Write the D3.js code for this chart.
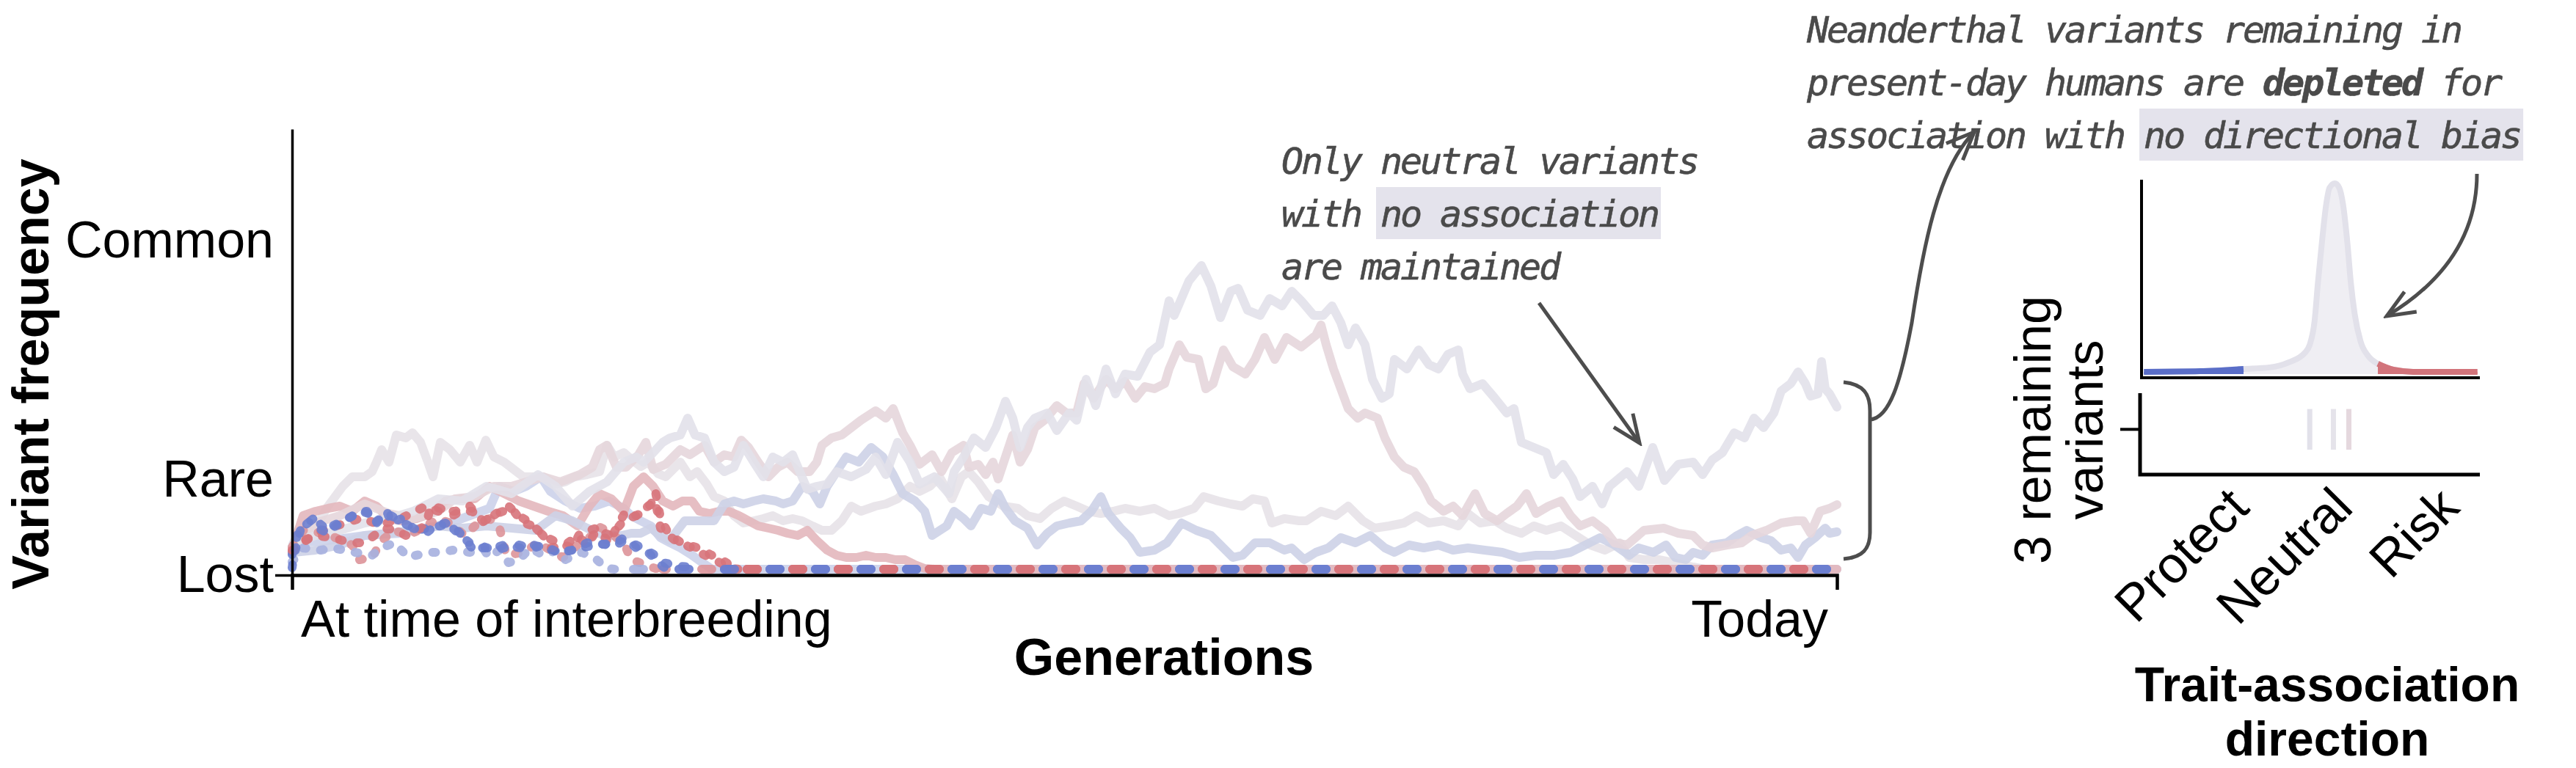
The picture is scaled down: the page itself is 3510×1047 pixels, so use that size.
<!DOCTYPE html>
<html>
<head>
<meta charset="utf-8">
<script src="https://cdn.jsdelivr.net/npm/d3@7"></script>
<style>
body{margin:0;background:#fff}
svg{display:block}
.lbl{font-family:"Liberation Sans",Arial,sans-serif;fill:#000}
.note{font-family:"DejaVu Sans Mono",monospace;font-style:italic;fill:#4a4a4a;font-size:50px;letter-spacing:-3.1px;stroke:#4a4a4a;stroke-width:0.6}
</style>
</head>
<body>
<svg id="fig" width="3510" height="1047"></svg>
<script>
// ---- allele trajectories: [generation, frequency] ----
var keptLavender = [[0,30],[2,36],[32,46],[65,53],[99,63],[132,69],[165,79],[199,96],[232,93],[265,113],[299,103],[335,129],[359,113],[382,86],[405,106],[429,119],[452,146],[469,153],[479,146],[492,159],[505,173],[515,179],[529,183],[539,206],[549,183],[562,179],[575,146],[589,133],[602,139],[615,169],[629,146],[642,126],[655,153],[669,146],[682,156],[702,109],[715,113],[729,116],[742,133],[762,126],[782,136],[795,153],[809,129],[825,173],[842,146],[855,116],[875,126],[895,103],[902,133],[915,153],[929,179],[945,166],[959,193],[972,229],[982,206],[992,166],[1002,193],[1012,206],[1029,213],[1042,189],[1059,213],[1069,203],[1082,259],[1095,223],[1109,273],[1122,239],[1135,266],[1152,263],[1169,296],[1182,306],[1195,366],[1202,346],[1222,393],[1239,414],[1252,386],[1265,343],[1279,379],[1289,383],[1302,353],[1319,346],[1332,369],[1349,359],[1362,379],[1375,366],[1392,346],[1405,346],[1417,359],[1429,336],[1439,306],[1449,329],[1462,306],[1472,259],[1485,233],[1495,239],[1502,286],[1519,273],[1535,299],[1549,279],[1562,273],[1575,293],[1589,299],[1595,266],[1605,246],[1622,253],[1639,233],[1655,213],[1665,219],[1675,173],[1692,166],[1709,159],[1719,129],[1732,143],[1745,123],[1755,99],[1772,113],[1785,89],[1795,113],[1819,133],[1835,113],[1854,166],[1870,121],[1889,143],[1909,146],[1922,129],[1935,149],[1949,159],[1965,186],[1979,179],[1992,206],[2005,193],[2019,213],[2029,243],[2042,253],[2052,269],[2062,253],[2069,236],[2079,239],[2084,283],[2089,246],[2095,239],[2105,221]];
var keptPink = [[0,28],[2,29],[32,63],[65,73],[99,89],[132,76],[165,69],[199,79],[222,96],[249,99],[275,113],[299,113],[319,119],[342,126],[365,119],[392,129],[409,139],[419,163],[429,169],[442,139],[455,139],[472,156],[482,173],[492,136],[509,143],[519,153],[529,163],[542,156],[562,169],[575,146],[589,156],[602,153],[612,176],[622,166],[635,146],[649,126],[662,139],[675,146],[689,133],[705,133],[715,146],[722,169],[735,179],[749,183],[762,193],[775,203],[795,216],[809,206],[819,219],[832,186],[842,169],[855,143],[872,156],[885,133],[899,159],[915,169],[922,139],[935,143],[945,129],[955,146],[962,123],[972,153],[982,183],[992,146],[1002,163],[1012,193],[1025,203],[1042,223],[1055,213],[1069,213],[1079,253],[1092,233],[1109,259],[1122,246],[1135,256],[1149,233],[1162,249],[1175,246],[1189,253],[1195,273],[1209,306],[1219,289],[1235,286],[1245,246],[1255,253],[1269,299],[1282,276],[1299,266],[1312,286],[1325,316],[1339,286],[1355,316],[1375,303],[1395,319],[1402,333],[1409,306],[1419,273],[1429,246],[1439,219],[1452,206],[1462,213],[1479,206],[1489,179],[1502,153],[1515,139],[1529,133],[1542,113],[1552,93],[1569,79],[1582,86],[1595,73],[1612,103],[1625,76],[1642,66],[1655,76],[1669,86],[1682,103],[1695,76],[1712,86],[1729,93],[1742,73],[1755,59],[1772,66],[1789,53],[1802,36],[1819,33],[1842,53],[1869,56],[1889,49],[1909,46],[1922,33],[1935,29],[1955,33],[1975,36],[1989,46],[2009,53],[2029,63],[2049,66],[2059,66],[2069,49],[2082,79],[2095,83],[2105,88]];
var keptBlue = [[0,22],[2,23],[32,26],[65,33],[99,46],[132,49],[165,53],[199,59],[232,56],[265,59],[299,56],[332,53],[359,73],[382,66],[402,56],[425,46],[449,46],[462,49],[475,49],[489,56],[502,46],[515,39],[525,53],[535,66],[549,66],[562,66],[575,66],[589,89],[602,93],[615,89],[629,93],[642,96],[659,93],[669,89],[682,93],[695,113],[709,106],[719,89],[729,113],[742,133],[755,153],[772,146],[789,166],[805,153],[819,129],[832,103],[849,93],[862,79],[872,46],[892,59],[902,79],[915,69],[925,59],[939,83],[952,79],[962,103],[972,83],[985,66],[1002,56],[1015,33],[1029,49],[1042,59],[1059,63],[1075,66],[1089,79],[1102,99],[1112,76],[1129,56],[1142,43],[1155,23],[1175,26],[1192,36],[1212,63],[1232,53],[1252,46],[1269,29],[1282,16],[1295,19],[1312,36],[1332,36],[1352,26],[1362,29],[1379,13],[1395,23],[1412,29],[1429,43],[1449,36],[1469,46],[1489,29],[1502,23],[1522,33],[1542,29],[1562,33],[1582,26],[1602,29],[1625,26],[1649,23],[1672,16],[1695,19],[1719,19],[1742,23],[1762,33],[1782,43],[1802,33],[1822,19],[1835,29],[1855,23],[1872,33],[1885,16],[1899,13],[1909,23],[1922,19],[1935,33],[1955,36],[1969,46],[1982,53],[2002,43],[2015,39],[2029,26],[2042,29],[2052,16],[2062,33],[2075,43],[2089,56],[2095,49],[2105,51]];
var paleRise = [[0,28],[2,29],[22,46],[39,69],[49,86],[69,113],[82,126],[99,126],[109,133],[115,146],[122,163],[132,146],[142,183],[155,179],[164,186],[175,173],[185,146],[192,126],[202,173],[215,163],[229,146],[242,169],[252,146],[264,176],[275,153],[289,146],[302,136],[315,126],[329,126],[342,126],[359,116],[372,119],[385,126],[402,129],[419,133],[429,169],[439,153],[452,159],[462,150],[475,140],[485,146],[499,130],[509,126],[529,146],[542,126],[552,133],[565,116],[575,99],[589,93],[602,73],[615,63],[629,66],[642,69],[655,73],[669,66],[682,69],[695,66],[709,59],[722,53],[735,53],[749,66],[762,86],[775,79],[795,86],[809,89],[825,96],[842,113],[855,106],[869,113],[882,126],[899,96],[912,126],[922,133],[935,119],[949,99],[969,86],[989,83],[1002,73],[1019,69],[1035,83],[1052,93],[1069,86],[1085,79],[1102,76],[1119,79],[1135,83],[1155,79],[1175,83],[1195,73],[1209,76],[1229,83],[1242,99],[1262,93],[1279,89],[1295,86],[1309,96],[1325,93],[1335,63],[1352,69],[1372,66],[1382,66],[1402,79],[1422,73],[1439,86],[1459,66],[1475,56],[1495,59],[1515,63],[1532,73],[1549,63],[1569,66],[1589,59],[1602,76],[1619,63],[1639,66],[1655,56],[1675,49],[1692,59],[1709,53],[1729,59],[1749,46],[1769,33],[1789,26],[1809,36],[1822,16],[1842,13],[1862,13],[1882,9],[1895,6],[1909,3],[1925,0],[2105,0]];
var paleBlue = [[0,30],[2,36],[49,39],[99,46],[149,49],[182,56],[215,63],[242,73],[269,83],[282,113],[302,106],[319,113],[339,126],[352,106],[372,93],[392,83],[412,86],[432,93],[452,83],[462,73],[475,66],[489,59],[502,43],[515,36],[529,29],[545,19],[559,9],[572,0],[2105,0]];
var paleRed = [[0,28],[2,33],[15,73],[32,79],[49,83],[65,86],[82,79],[99,93],[115,86],[132,69],[149,66],[169,69],[189,76],[209,93],[229,96],[249,96],[269,113],[289,103],[309,93],[329,86],[349,79],[369,73],[389,59],[405,86],[419,103],[435,96],[452,79],[465,113],[479,126],[492,113],[505,93],[519,86],[532,93],[545,93],[555,79],[569,76],[582,79],[595,79],[609,73],[622,66],[635,59],[649,56],[662,53],[675,49],[689,46],[702,53],[715,39],[729,26],[742,19],[755,16],[769,16],[782,19],[795,16],[809,16],[822,13],[835,13],[849,6],[862,1],[875,0],[2105,0]];
var lostRedA = [[0,26],[2,26],[15,39],[32,46],[55,43],[69,39],[82,36],[99,36],[112,46],[125,56],[142,53],[155,46],[169,53],[182,59],[189,86],[202,83],[219,73],[229,79],[245,79],[262,66],[279,76],[299,83],[315,63],[329,59],[342,46],[352,29],[372,33],[389,46],[402,33],[415,53],[435,46],[449,63],[452,66],[469,73],[485,86],[495,93],[502,56],[522,39],[545,29],[555,23],[575,13],[589,6],[599,1],[610,0],[2105,0]];
var lostRedB = [[0,30],[15,53],[42,49],[59,43],[82,33],[92,13],[109,16],[122,39],[139,53],[159,46],[182,59],[199,69],[215,63],[235,46],[249,59],[269,69],[282,59],[292,19],[315,23],[335,36],[352,26],[369,16],[389,33],[409,46],[415,59],[429,53],[442,43],[452,36],[462,13],[482,6],[495,1],[505,0],[2105,0]];
var lostRedC = [[0,24],[20,40],[45,55],[70,62],[95,70],[120,60],[150,70],[182,86],[199,79],[222,79],[242,86],[262,63],[282,79],[295,86],[309,73],[325,63],[342,46],[362,36],[382,29],[392,49],[415,56],[432,36],[445,63],[455,79],[469,73],[479,79],[489,89],[495,106],[502,70],[512,50],[530,36],[550,30],[570,20],[590,10],[605,0],[2105,0]];
var lostBlueA = [[0,2],[2,16],[12,56],[29,69],[35,56],[49,49],[55,59],[75,69],[95,79],[112,73],[115,63],[129,79],[135,63],[149,69],[165,56],[182,49],[195,59],[209,63],[222,56],[229,49],[245,29],[255,33],[275,26],[289,29],[309,33],[329,29],[342,33],[362,23],[382,26],[402,36],[415,36],[429,33],[442,33],[452,39],[469,33],[482,26],[495,19],[505,9],[529,4],[542,3],[550,0],[2105,0]];
var lostBlueB = [[0,10],[15,29],[39,26],[55,29],[72,26],[85,23],[109,19],[122,29],[139,36],[159,16],[169,19],[189,23],[202,23],[219,26],[242,23],[262,26],[269,16],[282,26],[295,9],[309,13],[325,29],[342,19],[362,26],[372,13],[395,23],[415,13],[429,1],[440,0],[2105,0]];
var lostBlueC = [[0,20],[9,53],[29,69],[49,53],[72,66],[92,79],[102,79],[112,63],[129,76],[142,69],[159,59],[169,53],[185,56],[202,59],[212,63],[229,46],[242,36],[255,29],[275,29],[289,33],[312,29],[329,33],[342,29],[369,23],[392,29],[415,33],[442,36],[452,43],[469,29],[485,23],[495,13],[502,6],[509,1],[520,0],[2105,0]];

var yTickVals = [-8, 122, 448];
var yTickNames = ["Lost", "Rare", "Common"];

// ---- trait-association density (association, relative density) ----
var density = [[-3.95,0.012],[-2.79,0.015],[-1.89,0.027],[-1.35,0.035],[-0.95,0.062],[-0.62,0.112],[-0.52,0.154],[-0.42,0.277],[-0.35,0.48],[-0.27,0.685],[-0.18,0.888],[-0.11,0.977],[0,1],[0.09,0.977],[0.17,0.888],[0.26,0.685],[0.33,0.48],[0.41,0.315],[0.53,0.173],[0.70,0.092],[0.89,0.054],[1.21,0.023],[1.62,0.012],[2.95,0.012]];
var protectCut = -1.89, riskCut = 0.89;
var remaining = [-0.52, -0.03, 0.29];
var directionNames = ["Protect", "Neutral", "Risk"];
var directionPos = [-1.73, 0.42, 2.62];

var noteLeft = ["Only neutral variants", "with no association", "are maintained"];
var noteRight = ["Neanderthal variants remaining in", "present-day humans are depleted for", "association with no directional bias"];

// ---- styles ----
var RED = "#d7737a", BLUE = "#6b7ecf", INK = "#4d4d4d";
var paleSeries = [
  {pts: paleRise, color: "#e7e2e8"},
  {pts: paleBlue, color: "#ccd1ea"},
  {pts: paleRed, color: "#e3b7bd"},
  {pts: keptBlue, color: "#cdd2e7"},
  {pts: keptPink, color: "#e6d6dc"},
  {pts: keptLavender, color: "#e2e1ea"}
];
var lostSeries = [
  {pts: lostRedB, color: "#dd9499", shift: 0},
  {pts: lostBlueB, color: "#a6b0df", shift: 31},
  {pts: lostRedC, color: RED, shift: 0},
  {pts: lostBlueC, color: BLUE, shift: 31},
  {pts: lostRedA, color: RED, shift: 0},
  {pts: lostBlueA, color: BLUE, shift: 31}
];

var svg = d3.select("#fig");
svg.append("rect").attr("width", 3510).attr("height", 1047).attr("fill", "#fff");

var defs = svg.append("defs");
defs.append("marker").attr("id", "head")
  .attr("viewBox", "-45 -25 50 50").attr("markerWidth", 50).attr("markerHeight", 50)
  .attr("markerUnits", "userSpaceOnUse").attr("orient", "auto").attr("refX", 0).attr("refY", 0)
  .append("path").attr("d", "M-38,-16L0,0L-38,16").attr("fill", "none")
  .attr("stroke", INK).attr("stroke-width", 5);

// ================= left panel =================
var x = d3.scaleLinear().domain([0, 2105]).range([398, 2503]);
var y = d3.scaleLinear().domain([-8, 600]).range([784, 176]);
var line = d3.line().x(function(d){ return x(d[0]) }).y(function(d){ return y(d[1]) });

var gl = svg.append("g");
gl.selectAll(".pale").data(paleSeries).enter().append("path")
  .attr("class", "pale")
  .attr("d", function(d){ return line(d.pts) })
  .attr("fill", "none").attr("stroke", function(d){ return d.color })
  .attr("stroke-width", 12).attr("stroke-linejoin", "round").attr("stroke-linecap", "round")
  .attr("opacity", 0.9);

function splitAtLoss(pts){
  var k = pts.findIndex(function(p){ return p[1] <= 0 });
  return {walk: pts.slice(0, k + 1), flat: pts.slice(k)};
}

lostSeries.forEach(function(s){
  var parts = splitAtLoss(s.pts);
  gl.append("path").attr("d", line(parts.walk))
    .attr("fill", "none").attr("stroke", s.color).attr("stroke-width", 12)
    .attr("stroke-linecap", "round").attr("stroke-linejoin", "round")
    .attr("stroke-dasharray", "4 20").attr("opacity", 0.9);
  gl.append("path").attr("d", line(parts.flat))
    .attr("fill", "none").attr("stroke", s.color).attr("stroke-width", 12)
    .attr("stroke-linecap", "round")
    .attr("stroke-dasharray", "14 48")
    .attr("stroke-dashoffset", x(parts.flat[0][0]) - x(0) + s.shift)
    .attr("opacity", 0.9);
});

var xAxis = gl.append("g").attr("transform", "translate(0," + y(-8) + ")")
  .call(d3.axisBottom(x).tickValues([]).tickSizeOuter(20));
xAxis.select(".domain").attr("stroke", "#000").attr("stroke-width", 4.5);

var yAxis = gl.append("g").attr("transform", "translate(" + x(0) + ",0)")
  .call(d3.axisLeft(y).tickValues(yTickVals).tickSize(0).tickSizeOuter(0).tickPadding(25)
    .tickFormat(function(d, i){ return yTickNames[i] }));
yAxis.select(".domain").attr("stroke", "#000").attr("stroke-width", 3.5);
yAxis.selectAll("text").attr("class", "lbl").attr("font-size", 70).attr("dy", "0.32em");
yAxis.selectAll(".tick").filter(function(d){ return d === yTickVals[0] })
  .select("line").attr("x2", -23).attr("stroke", "#000").attr("stroke-width", 3.5);

gl.append("text").attr("class", "lbl").attr("font-size", 70)
  .attr("x", x(0) + 12).attr("y", 868).text("At time of interbreeding");
gl.append("text").attr("class", "lbl").attr("font-size", 70).attr("text-anchor", "end")
  .attr("x", x(2105) - 12).attr("y", 868).text("Today");
gl.append("text").attr("class", "lbl").attr("font-size", 70).attr("font-weight", "bold")
  .attr("text-anchor", "middle").attr("x", 1586).attr("y", 920).text("Generations");
gl.append("text").attr("class", "lbl").attr("font-size", 70).attr("font-weight", "bold")
  .attr("text-anchor", "middle").attr("transform", "translate(66,510) rotate(-90)")
  .text("Variant frequency");

// ================= annotations =================
function drawNote(x0, y0, lines, highlight, bold){
  var g = svg.append("g");
  lines.forEach(function(s, i){
    var t = g.append("text").attr("class", "note").attr("x", x0).attr("y", y0 + i * 72);
    var b = bold ? s.indexOf(bold) : -1;
    if(b >= 0){
      t.append("tspan").text(s.slice(0, b));
      t.append("tspan").attr("font-weight", "bold").text(bold);
      t.append("tspan").text(s.slice(b + bold.length));
    } else {
      t.text(s);
    }
    var h = s.indexOf(highlight);
    if(h > 0){
      var node = t.node();
      var start = node.getSubStringLength(0, h), len = node.getSubStringLength(h, highlight.length);
      g.insert("rect", ":first-child")
        .attr("x", x0 + start - 6).attr("y", y0 + i * 72 - 54)
        .attr("width", len + 10).attr("height", 71).attr("fill", "#e4e3ec");
    }
  });
}
drawNote(1746, 237, noteLeft, "no association", null);
drawNote(2462, 58, noteRight, "no directional bias", "depleted");

var ink = svg.append("g").attr("fill", "none").attr("stroke", INK).attr("stroke-width", 5);
ink.append("path").attr("d", "M2097,413L2234,604").attr("marker-end", "url(#head)");
ink.append("path").attr("d", "M2512,521C2540,524 2548,538 2548,560L2548,726C2548,748 2538,760 2512,762");
ink.append("path").attr("d", "M2548,572C2575,570 2590,520 2605,440C2620,340 2640,230 2690,180").attr("marker-end", "url(#head)");
ink.append("path").attr("d", "M3375,237C3375,330 3320,390 3252,431").attr("marker-end", "url(#head)");

// ================= right panel =================
var xa = d3.scaleLinear().domain([-4, 3]).range([2918, 3379]);
var yd = d3.scaleLinear().domain([0, 1]).range([510, 250]);
var area = d3.area().curve(d3.curveMonotoneX)
  .x(function(d){ return xa(d[0]) }).y0(yd(0)).y1(function(d){ return yd(d[1]) });
var dline = d3.line().curve(d3.curveMonotoneX)
  .x(function(d){ return xa(d[0]) }).y(function(d){ return yd(d[1]) });

var gr = svg.append("g");
gr.append("path").attr("d", area(density)).attr("fill", "#efeef3");
gr.append("path").attr("d", dline(density)).attr("fill", "none").attr("stroke", "#e2e1ea").attr("stroke-width", 8);
var leftTail = density.filter(function(d){ return d[0] <= protectCut });
var rightTail = density.filter(function(d){ return d[0] >= riskCut });
[[leftTail, "#5a6ec8"], [rightTail, "#d2747b"]].forEach(function(p){
  gr.append("path").attr("d", area(p[0])).attr("fill", p[1]);
  gr.append("path").attr("d", dline(p[0])).attr("fill", "none").attr("stroke", p[1]).attr("stroke-width", 8);
});
gr.append("path").attr("d", "M" + xa(-4) + "," + 245 + "V" + 515 + "H" + xa(3))
  .attr("fill", "none").attr("stroke", "#000").attr("stroke-width", 4);

var yr = d3.scaleLinear().domain([0, 1.8]).range([647, 536]);
gr.selectAll(".rug").data(remaining).enter().append("line")
  .attr("x1", function(d){ return xa(d) }).attr("x2", function(d){ return xa(d) })
  .attr("y1", yr(0.55)).attr("y2", yr(1.45))
  .attr("stroke", function(d, i){ return ["#e2e1ea", "#e5e3ea", "#e5d8de"][i] }).attr("stroke-width", 7);
gr.append("path").attr("d", "M" + (xa(-4) - 2) + "," + yr(1.8) + "V" + yr(0) + "H" + xa(3))
  .attr("fill", "none").attr("stroke", "#000").attr("stroke-width", 5);
gr.append("line").attr("x1", xa(-4) - 29).attr("x2", xa(-4) - 2).attr("y1", yr(1)).attr("y2", yr(1))
  .attr("stroke", "#000").attr("stroke-width", 4);

gr.selectAll(".dir").data(directionNames).enter().append("text")
  .attr("class", "lbl").attr("font-size", 70).attr("text-anchor", "end")
  .attr("transform", function(d, i){ return "translate(" + xa(directionPos[i]) + ",695) rotate(-45)" })
  .text(function(d){ return d });

gr.append("text").attr("class", "lbl").attr("font-size", 70).attr("text-anchor", "middle")
  .attr("transform", "translate(2794,586) rotate(-90)").text("3 remaining");
gr.append("text").attr("class", "lbl").attr("font-size", 70).attr("text-anchor", "middle")
  .attr("transform", "translate(2865,586) rotate(-90)").text("variants");
gr.append("text").attr("class", "lbl").attr("font-size", 66).attr("font-weight", "bold")
  .attr("text-anchor", "middle").attr("x", 3171).attr("y", 956).text("Trait-association");
gr.append("text").attr("class", "lbl").attr("font-size", 66).attr("font-weight", "bold")
  .attr("text-anchor", "middle").attr("x", 3171).attr("y", 1030).text("direction");
</script>
</body>
</html>
